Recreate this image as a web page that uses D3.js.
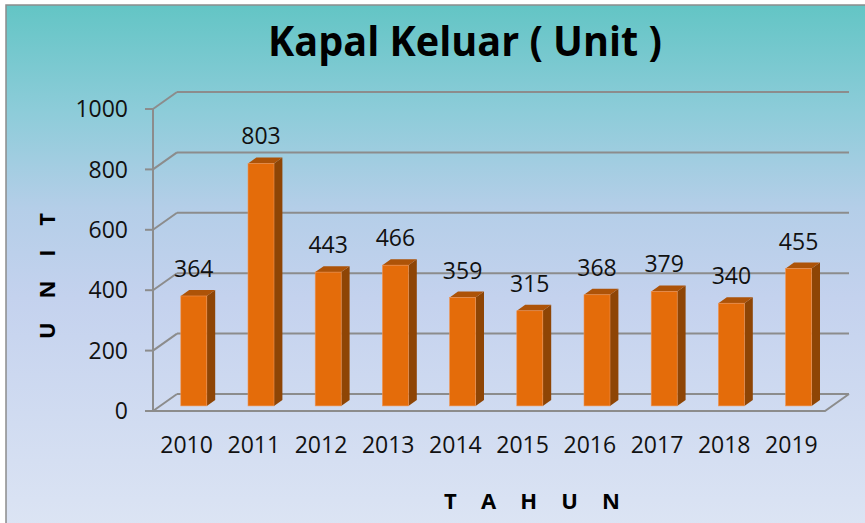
<!DOCTYPE html>
<html>
<head>
<meta charset="utf-8">
<script src="https://cdn.jsdelivr.net/npm/d3@7"></script>
<style>
  body { margin: 0; background: #fff; }
  text { font-family: "Open Sans", "Noto Sans", sans-serif; }
</style>
</head>
<body>
<div id="chart"></div>
<script>
// data
let years = ["2010", "2011", "2012", "2013", "2014", "2015", "2016", "2017", "2018", "2019"];
let values = [364, 803, 443, 466, 359, 315, 368, 379, 340, 455];
let yTicks = [0, 200, 400, 600, 800, 1000];

let W = 865, H = 523;
// 3d depth offset (back wall)
let DX = 24, DY = -17;

let svg = d3.select('#chart').append('svg')
  .attr('width', W)
  .attr('height', H);

let defs = svg.append('defs');
let grad = defs.append('linearGradient')
  .attr('id', 'bg')
  .attr('x1', 0).attr('y1', 0).attr('x2', 0).attr('y2', 1);
[[0, '#63c5c5'], [0.2, '#8dccd9'], [0.38, '#b4cee8'], [0.55, '#c4d2ee'], [1, '#dde5f4']]
  .forEach(s => grad.append('stop').attr('offset', s[0]).attr('stop-color', s[1]));

// background + frame
svg.append('rect')
  .attr('x', 6).attr('y', 5)
  .attr('width', W + 10).attr('height', H + 10)
  .attr('fill', 'url(#bg)')
  .attr('stroke', '#8c8c8c')
  .attr('stroke-width', 1.5);

let x = d3.scaleBand()
  .domain(years)
  .range([153, 825]);

let y = d3.scaleLinear()
  .domain([0, 1000])
  .range([411, 109]);

function proj(px, py, z) {
  return [px + DX * z, py + DY * z];
}

let grid = svg.append('g');
let gridColor = '#8c8c8c';

// back wall gridlines + left wall diagonals
yTicks.forEach(t => {
  let b0 = proj(153, y(t), 1);
  let b1 = proj(825, y(t), 1);
  grid.append('line')
    .attr('x1', b0[0]).attr('y1', b0[1])
    .attr('x2', b1[0]).attr('y2', b1[1])
    .attr('stroke', gridColor).attr('stroke-width', 2);
  grid.append('line')
    .attr('x1', 153).attr('y1', y(t))
    .attr('x2', b0[0]).attr('y2', b0[1])
    .attr('stroke', gridColor).attr('stroke-width', 2);
  // tick mark
  grid.append('line')
    .attr('x1', 145).attr('y1', y(t))
    .attr('x2', 153).attr('y2', y(t))
    .attr('stroke', gridColor).attr('stroke-width', 2);
});

// floor front edge and right edge
let fr = proj(825, y(0), 1);
grid.append('polyline')
  .attr('points', [[153, y(0)], [825, y(0)], fr].map(p => p.join(',')).join(' '))
  .attr('fill', 'none')
  .attr('stroke', gridColor).attr('stroke-width', 2);

// front vertical axis
grid.append('line')
  .attr('x1', 153).attr('y1', y(0))
  .attr('x2', 153).attr('y2', y(1000))
  .attr('stroke', gridColor).attr('stroke-width', 2);

// y tick labels
svg.append('g').selectAll('text')
  .data(yTicks)
  .enter().append('text')
  .attr('x', 128)
  .attr('y', d => y(d))
  .attr('dy', '0.36em')
  .attr('text-anchor', 'end')
  .attr('font-size', 23)
  .attr('fill', '#111')
  .text(d => d);

// bars
let barW = 26, z0 = 0.3, z1 = 0.65;
let bars = svg.append('g').selectAll('g')
  .data(values)
  .enter().append('g');

function bx(i) {
  return x(years[i]) + (x.bandwidth() - barW) / 2;
}

// side
bars.append('polygon')
  .attr('points', (d, i) => {
    let xr = bx(i) + barW;
    return [proj(xr, y(d), z0), proj(xr, y(d), z1), proj(xr, y(0), z1), proj(xr, y(0), z0)]
      .map(p => p.join(',')).join(' ');
  })
  .attr('fill', '#8e4505');

// top
bars.append('polygon')
  .attr('points', (d, i) => {
    let xl = bx(i), xr = xl + barW;
    return [proj(xl, y(d), z0), proj(xr, y(d), z0), proj(xr, y(d), z1), proj(xl, y(d), z1)]
      .map(p => p.join(',')).join(' ');
  })
  .attr('fill', '#ad5308');

// front
bars.append('rect')
  .attr('x', (d, i) => bx(i) + DX * z0)
  .attr('y', d => y(d) + DY * z0)
  .attr('width', barW)
  .attr('height', d => y(0) - y(d))
  .attr('fill', '#e46c0a')
  .attr('stroke', '#ee9556')
  .attr('stroke-width', 0.6);

// value labels
svg.append('g').selectAll('text')
  .data(values)
  .enter().append('text')
  .attr('x', (d, i) => bx(i) + DX * z0 + barW / 2)
  .attr('y', d => y(d) + DY * z1 - 13)
  .attr('text-anchor', 'middle')
  .attr('font-size', 23)
  .attr('fill', '#111')
  .text(d => d);

// x labels
svg.append('g').selectAll('text')
  .data(years)
  .enter().append('text')
  .attr('x', d => x(d) + x.bandwidth() / 2)
  .attr('y', 453)
  .attr('text-anchor', 'middle')
  .attr('font-size', 23)
  .attr('fill', '#111')
  .text(d => d);

// title
svg.append('text')
  .attr('x', 465)
  .attr('y', 56)
  .attr('text-anchor', 'middle')
  .attr('font-size', 42)
  .attr('font-weight', 'bold')
  .attr('textLength', 394)
  .attr('lengthAdjust', 'spacingAndGlyphs')
  .attr('fill', '#000')
  .text('Kapal Keluar ( Unit )');

// axis titles
svg.append('text')
  .attr('x', 532)
  .attr('y', 509)
  .attr('text-anchor', 'middle')
  .attr('font-size', 22)
  .attr('font-weight', 'bold')
  .attr('textLength', 176)
  .attr('lengthAdjust', 'spacing')
  .attr('fill', '#000')
  .text('T A H U N');

svg.append('text')
  .attr('transform', 'translate(55,276) rotate(-90)')
  .attr('text-anchor', 'middle')
  .attr('font-size', 22)
  .attr('font-weight', 'bold')
  .attr('textLength', 126)
  .attr('lengthAdjust', 'spacing')
  .attr('fill', '#000')
  .text('U N I T');
</script>
</body>
</html>
